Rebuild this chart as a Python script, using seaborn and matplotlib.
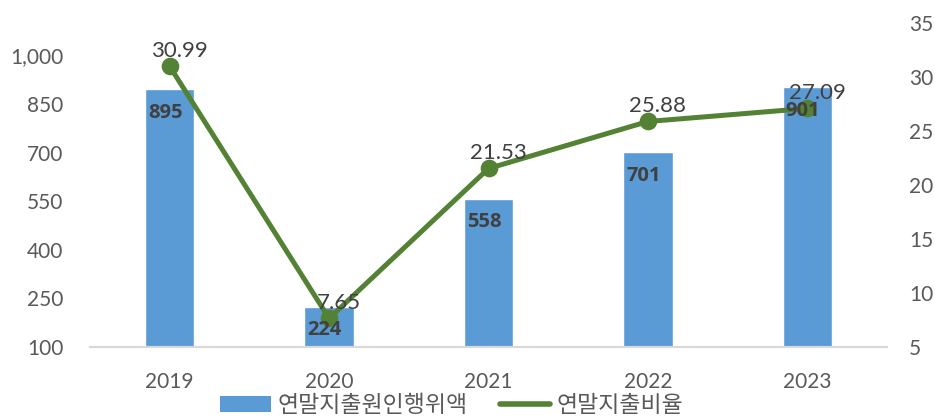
import numpy as np
import pandas as pd
import seaborn as sns
import matplotlib.pyplot as plt
from matplotlib.lines import Line2D
from matplotlib.patches import Patch

# data
years = ['2019', '2020', '2021', '2022', '2023']
amount = [895, 224, 558, 701, 901]          # 연말지출원인행위액
ratio = [30.99, 7.65, 21.53, 25.88, 27.09]  # 연말지출비율

bar_color = '#5B9BD5'
line_color = '#548235'
txt_color = '#595959'
lbl_color = '#404040'

sns.set_theme(style='white')
plt.rcParams['font.family'] = ['Lato', 'Noto Sans CJK KR', 'DejaVu Sans']

fig = plt.figure(figsize=(9.35, 4.16), dpi=100)
ax = fig.add_axes([90 / 935, 1 - 347 / 416, 797 / 935, 324 / 416])

df = pd.DataFrame({'year': years, 'amount': amount, 'ratio': ratio})
sns.barplot(data=df, x='year', y='amount', color=bar_color, width=0.31,
            saturation=1, ax=ax, bottom=0)
ax.set_ylim(100, 1100)
ax.set_yticks(np.arange(100, 1001, 150))
ax.set_yticklabels([f'{v:,}' for v in range(100, 1001, 150)])
ax.set_xlim(-0.5, 4.5)
ax.set_xlabel('')
ax.set_ylabel('')

ax2 = ax.twinx()
sns.pointplot(data=df, x='year', y='ratio', color=line_color, ax=ax2,
              markers='o', markersize=10, linewidth=3.6)
ax2.set_ylim(5, 35)
ax2.set_yticks(np.arange(5, 36, 5))
ax2.set_xlim(-0.5, 4.5)
ax2.set_ylabel('')
ax2.set_xlabel('')

# bar labels sit on top of the line, like the original
for i, v in enumerate(amount):
    ax2.annotate(str(v), (i, v), xycoords=ax.transData, xytext=(-3, -17),
                 textcoords='offset points', ha='center', va='center',
                 fontsize=14.5, fontweight='bold', family=['Open Sans', 'DejaVu Sans'],
                 color=lbl_color, zorder=10)

for i, v in enumerate(ratio):
    ax2.annotate(f'{v:.2f}', (i, v), xytext=(7, 11), textcoords='offset points',
                 ha='center', va='center', fontsize=16, color=lbl_color,
                 zorder=10)

for a in (ax, ax2):
    for s in ['top', 'left', 'right']:
        a.spines[s].set_visible(False)
    a.spines['bottom'].set_color('#D9D9D9')
    a.spines['bottom'].set_linewidth(1.5)
    a.grid(False)

ax.tick_params(axis='y', length=0, pad=19, labelsize=15, labelcolor=txt_color)
ax.tick_params(axis='x', length=0, pad=18, labelsize=15, labelcolor=txt_color)
ax2.tick_params(axis='y', length=0, pad=16, labelsize=15, labelcolor=txt_color)

handles = [Patch(facecolor=bar_color, edgecolor='none'),
           Line2D([0], [0], color=line_color, linewidth=4)]
fig.legend(handles, ['연말지출원인행위액', '연말지출비율'], loc='lower center',
           bbox_to_anchor=(452 / 935, -0.05), ncol=2, frameon=False,
           fontsize=16.5, handlelength=2.2, handletextpad=0.3, columnspacing=1.4,
           labelcolor=txt_color)

fig.savefig('out.png', dpi=100)
